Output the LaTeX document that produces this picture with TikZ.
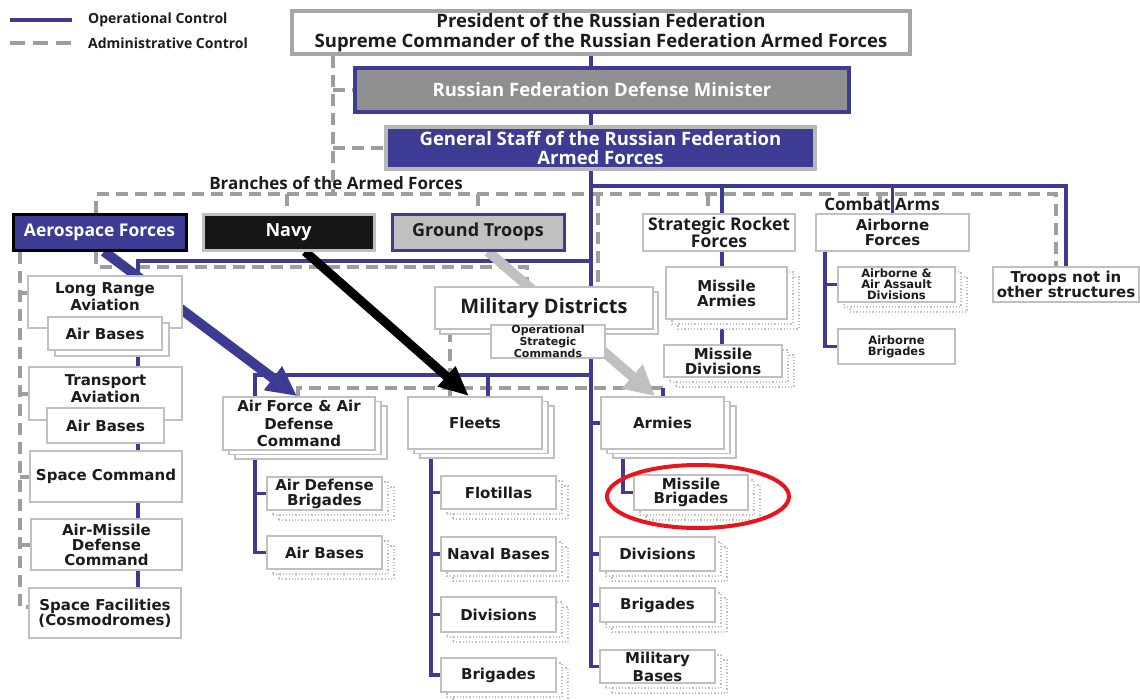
\documentclass[tikz,border=0pt]{standalone}
\usepackage{fontspec}
\setmainfont{DejaVu Sans}
\newfontfamily\myr{Open Sans}
\usetikzlibrary{arrows.meta,shadows,backgrounds,calc,shapes.geometric}
\definecolor{opblue}{RGB}{61,59,148}
\definecolor{admgray}{RGB}{158,158,158}
\definecolor{boxgray}{RGB}{192,192,192}
\definecolor{presgray}{RGB}{166,166,166}
\definecolor{mingray}{RGB}{143,143,143}
\definecolor{gtgray}{RGB}{192,192,192}
\definecolor{txt}{RGB}{28,28,28}
\definecolor{ringred}{RGB}{232,22,28}
\definecolor{navyblack}{RGB}{22,22,22}
\begin{document}
\begin{tikzpicture}[x=1pt,y=-1pt,
  op/.style={draw=opblue,line width=3.5pt},
  adm/.style={draw=admgray,line width=4pt,dash pattern=on 12pt off 7pt},
  box/.style={draw=boxgray,line width=1.8pt,fill=white,text=txt,align=center,inner sep=0pt,font=\bfseries\fontsize{15}{15}\selectfont},
  sbox/.style={box,font=\bfseries\fontsize{11.5}{10.8}\selectfont},
  lbl/.style={text=txt,align=center,inner sep=0pt,font=\bfseries\fontsize{15}{17}\selectfont},
  mtxt/.style={text=txt,inner sep=0pt,font=\myr\bfseries\fontsize{#1}{#1}\selectfont},
  one/.style={copy shadow={shadow xshift=7pt,shadow yshift=-6pt,draw=boxgray,fill=white,line width=1.5pt}},
  two/.style={copy shadow={shadow xshift=12pt,shadow yshift=-9pt,draw=boxgray,fill=white,line width=1.5pt},copy shadow={shadow xshift=6pt,shadow yshift=-4.5pt,draw=boxgray,fill=white,line width=1.5pt}},
  dots/.style={copy shadow={shadow xshift=12pt,shadow yshift=-10pt,draw=boxgray,fill=white,line width=1.2pt,dotted},copy shadow={shadow xshift=6pt,shadow yshift=-5pt,draw=boxgray,fill=white,line width=1.2pt,dotted}},
  barrow/.style={draw=opblue,line width=10pt,-{Triangle[length=30pt,width=28pt]}},
  karrow/.style={draw=black,line width=9pt,-{Triangle[length=30pt,width=25pt]}},
  garrow/.style={draw=gtgray,line width=10pt,-{Triangle[length=30pt,width=30pt]}}
]
\useasboundingbox (0,0) rectangle (1140,699);
% ---------- legend
\coordinate (lg1a) at (10,20); \coordinate (lg1b) at (72,20);
\coordinate (lg2a) at (10,43); \coordinate (lg2b) at (72,43);
\node[mtxt=14,anchor=west] (lgop) at (88,20) {Operational Control};
\node[mtxt=14,anchor=west] (lgad) at (88,43) {Administrative Control};
\draw[op,line width=4pt] (lg1a) -- (lg1b);
\draw[adm,dash pattern=on 15pt off 8pt] (lg2a) -- (lg2b);
% ---------- top
\node[box,draw=presgray,line width=3.5pt,font=\myr\bfseries\fontsize{18.5}{20}\selectfont,minimum width=618,minimum height=43] (pres) at (601,32.5) {President of the Russian Federation\\Supreme Commander of the Russian Federation Armed Forces};
\node[box,fill=mingray,draw=opblue,line width=3.5pt,text=white,font=\myr\bfseries\fontsize{18.5}{20}\selectfont,minimum width=494,minimum height=44] (min) at (602,90) {Russian Federation Defense Minister};
\node[box,fill=opblue,draw=presgray!80,line width=3.5pt,text=white,font=\myr\bfseries\fontsize{18.5}{19}\selectfont,minimum width=429,minimum height=42] (gs) at (600.5,148) {General Staff of the Russian Federation\\Armed Forces};
\node[mtxt=17] (branches) at (336,183) {Branches of the Armed Forces};
\node[mtxt=17] (combat) at (882,204) {Combat Arms};
% ---------- branches
\node[box,fill=opblue,draw=black,line width=3pt,text=white,font=\myr\bfseries\fontsize{17.5}{18}\selectfont,minimum width=173,minimum height=36] (aero) at (99.5,232) {Aerospace Forces};
\node[box,fill=navyblack,draw=boxgray,line width=3pt,text=white,font=\myr\bfseries\fontsize{18}{18}\selectfont,minimum width=171,minimum height=36] (navy) at (288.5,232) {Navy};
\node[box,fill=gtgray,draw=opblue,line width=3pt,font=\myr\bfseries\fontsize{18}{18}\selectfont,minimum width=172,minimum height=36] (gt) at (478,232) {Ground Troops};
% ---------- combat arms
\node[box,font=\myr\bfseries\fontsize{17.5}{16}\selectfont,minimum width=152,minimum height=37] (srf) at (719,232.5) {Strategic Rocket\\Forces};
\node[box,minimum width=153,minimum height=37] (abf) at (892.5,232.5) {Airborne\\Forces};
\node[box,minimum width=146,minimum height=35] (troops) at (1066,284.5) {Troops not in\\other structures};
\node[box,dots,minimum width=121,minimum height=52] (marm) at (726.5,293) {Missile\\Armies};
\node[box,dots,minimum width=118,minimum height=32] (mdiv) at (723,361) {Missile\\Divisions};
\node[sbox,dots,minimum width=117,minimum height=35] (aadiv) at (896.5,284.5) {Airborne \&\\Air Assault\\Divisions};
\node[sbox,minimum width=117,minimum height=35] (abrig) at (896.5,346.5) {Airborne\\Brigades};
% ---------- aerospace column
\node[box,minimum width=154,minimum height=52] (lra) at (105,302) {};
\node[lbl] (lralbl) at (105,296.5) {Long Range\\Aviation};
\node[box,one,minimum width=114,minimum height=33] (lraab) at (105,333.5) {Air Bases};
\node[box,minimum width=153,minimum height=53] (ta) at (105.5,393.5) {};
\node[lbl] (talbl) at (105.5,388.5) {Transport\\Aviation};
\node[box,minimum width=117,minimum height=35] (taab) at (105.5,425.5) {Air Bases};
\node[box,minimum width=152,minimum height=51] (sc) at (106,476.5) {Space Command};
\node[box,minimum width=151,minimum height=51] (amdc) at (106.5,544.5) {Air-Missile\\Defense\\Command};
\node[box,minimum width=152,minimum height=50] (sf) at (105,613) {Space Facilities\\(Cosmodromes)};
% ---------- military districts
\node[box,font=\myr\bfseries\fontsize{20}{20}\selectfont,minimum width=218,minimum height=42,copy shadow={shadow xshift=5pt,shadow yshift=-5pt,draw=boxgray,fill=white,line width=1.5pt}] (md) at (544,308) {Military Districts};
\node[box,font=\bfseries\fontsize{11}{10.3}\selectfont,minimum width=114,minimum height=33] (osc) at (548,341.5) {Operational\\Strategic\\Commands};
% ---------- second level
\node[box,two,font=\bfseries\fontsize{15}{17.5}\selectfont,minimum width=152,minimum height=53] (afc) at (299,423.5) {Air Force \& Air\\Defense\\Command};
\node[box,two,minimum width=134,minimum height=52] (fleets) at (475,423) {Fleets};
\node[box,two,minimum width=123,minimum height=52] (armies) at (662.5,423) {Armies};
% ---------- leaves
\node[box,dots,minimum width=115,minimum height=33] (adb) at (324.5,493.5) {Air Defense\\Brigades};
\node[box,dots,minimum width=115,minimum height=33] (afab) at (324.5,552.5) {Air Bases};
\node[box,dots,minimum width=115,minimum height=33] (flot) at (498.5,492.5) {Flotillas};
\node[box,dots,minimum width=115,minimum height=34] (nb) at (498.5,554) {Naval Bases};
\node[box,dots,minimum width=115,minimum height=35] (fdiv) at (498.5,614.5) {Divisions};
\node[box,dots,minimum width=115,minimum height=34] (fbrig) at (498.5,675) {Brigades};
\node[box,dots,font=\bfseries\fontsize{15}{14.5}\selectfont,minimum width=114,minimum height=35] (mbrig) at (691,492.5) {Missile\\Brigades};
\node[box,dots,minimum width=115,minimum height=34] (rdiv) at (657.5,554) {Divisions};
\node[box,dots,minimum width=115,minimum height=34] (rbrig) at (657.5,605) {Brigades};
\node[box,dots,font=\bfseries\fontsize{15}{18}\selectfont,minimum width=115,minimum height=33] (mbases) at (657.5,666.5) {Military\\Bases};
\node[draw=ringred,line width=4pt,ellipse,minimum width=182,minimum height=63,inner sep=0pt] (ring) at (698,496.5) {};
% ---------- connectors
\begin{scope}[on background layer]
\coordinate (sp) at (591,0);
\coordinate (xd) at (333,0);
\coordinate (x96) at (96,0);
\coordinate (xnavy) at (287,0);
\coordinate (xgt) at (478,0);
\coordinate (xsrfd) at (708,0);
\coordinate (xca) at (880,0);
\coordinate (xtr) at (1056,0);
\coordinate (xmd) at (598,0);
\coordinate (xmd2) at (527,0);
\coordinate (xll) at (20,0);
\coordinate (xmdd) at (450,0);
\coordinate (xafd) at (298,0);
\coordinate (xst) at (663,0);
\coordinate (xsrf) at (722,0);
\coordinate (xab) at (825,0);
\coordinate (xl) at (138,0);
\coordinate (xa) at (255,0);
\coordinate (xf) at (488,0);
\coordinate (xfc) at (431,0);
\coordinate (xam) at (623,0);
\coordinate (xba) at (104,0);
\coordinate (xbt) at (297,0);
\coordinate (xbn) at (305,0);
\coordinate (xbnt) at (469,0);
\coordinate (xbg) at (488,0);
\coordinate (xbgt) at (655,0);
\coordinate (ybr) at (0,194);
\coordinate (yl2) at (0,267);
\coordinate (ydm) at (0,388);
\coordinate (yjr) at (0,186);
\coordinate (yjl) at (0,261);
\coordinate (yjm) at (0,375);
\coordinate (tlra) at ($(lra.west)+(0,-9)$);
\coordinate (tsf) at ($(sf.west)+(0,-6)$);
% administrative (dashed)
\draw[adm] (pres.south -| xd) -- (ybr -| xd);
\draw[adm] (min.west -| xd) -- (min.west);
\draw[adm] (gs.west -| xd) -- (gs.west);
\draw[adm] (aero.north -| x96) |- (ybr -| xtr) -- (troops.north -| xtr);
\draw[adm] (ybr -| xnavy) -- (navy.north -| xnavy);
\draw[adm] (ybr -| xgt) -- (gt.north -| xgt);
\draw[adm] (ybr -| xsrfd) -- (srf.north -| xsrfd);
\draw[adm] (ybr -| xca) -- (abf.north -| xca);
\draw[adm] (ybr -| xmd) -- (md.north -| xmd);
\draw[adm] (aero.south -| x96) |- (yl2 -| xmd2) -- (md.north -| xmd2);
\draw[adm] (aero.south -| xll) |- (tsf);
\draw[adm] (tlra -| xll) -- (tlra);
\draw[adm] (ta.west -| xll) -- (ta.west);
\draw[adm] (sc.west -| xll) -- (sc.west);
\draw[adm] (amdc.west -| xll) -- (amdc.west);
\draw[adm] (md.south -| xmdd) -- (fleets.north -| xmdd);
\draw[adm] (afc.north -| xafd) |- (ydm -| xst);
% operational (blue)
\draw[op] (pres.south -| sp) |- (mbases.west);
\draw[op] (armies.west -| sp) -- (armies.west);
\draw[op] (rdiv.west -| sp) -- (rdiv.west);
\draw[op] (rbrig.west -| sp) -- (rbrig.west);
\draw[op] (yjr -| sp) -| (troops.north);
\draw[op] (yjr -| xsrf) -- (srf.north -| xsrf);
\draw[op] (srf.south -| xsrf) -- (marm.north -| xsrf);
\draw[op] (marm.south -| xsrf) -- (mdiv.north -| xsrf);
\draw[op] (yjr -| abf.north) -- (abf.north);
\draw[op] (abf.south -| xab) |- (abrig.west);
\draw[op] (aadiv.west -| xab) -- (aadiv.west);
\draw[op] (yjl -| sp) -| (lra.north -| xl);
\draw[op] (lra.south -| xl) -- (sf.north -| xl);
\draw[op] (yjm -| sp) -| (afc.north -| xa);
\draw[op] (yjm -| xf) -- (fleets.north -| xf);
\draw[op] (afc.south -| xa) |- (afab.west);
\draw[op] (adb.west -| xa) -- (adb.west);
\draw[op] (fleets.south -| xfc) |- (fbrig.west);
\draw[op] (flot.west -| xfc) -- (flot.west);
\draw[op] (nb.west -| xfc) -- (nb.west);
\draw[op] (fdiv.west -| xfc) -- (fdiv.west);
\draw[op] (armies.south -| xam) |- (mbrig.west);
\draw[op] (ydm -| xst) -- (armies.north -| xst);
% command arrows
\draw[barrow] (aero.south -| xba) -- (afc.north -| xbt);
\draw[karrow] (navy.south -| xbn) -- (fleets.north -| xbnt);
\draw[garrow] (gt.south -| xbg) -- (armies.north -| xbgt);
\end{scope}
\end{tikzpicture}
\end{document}
